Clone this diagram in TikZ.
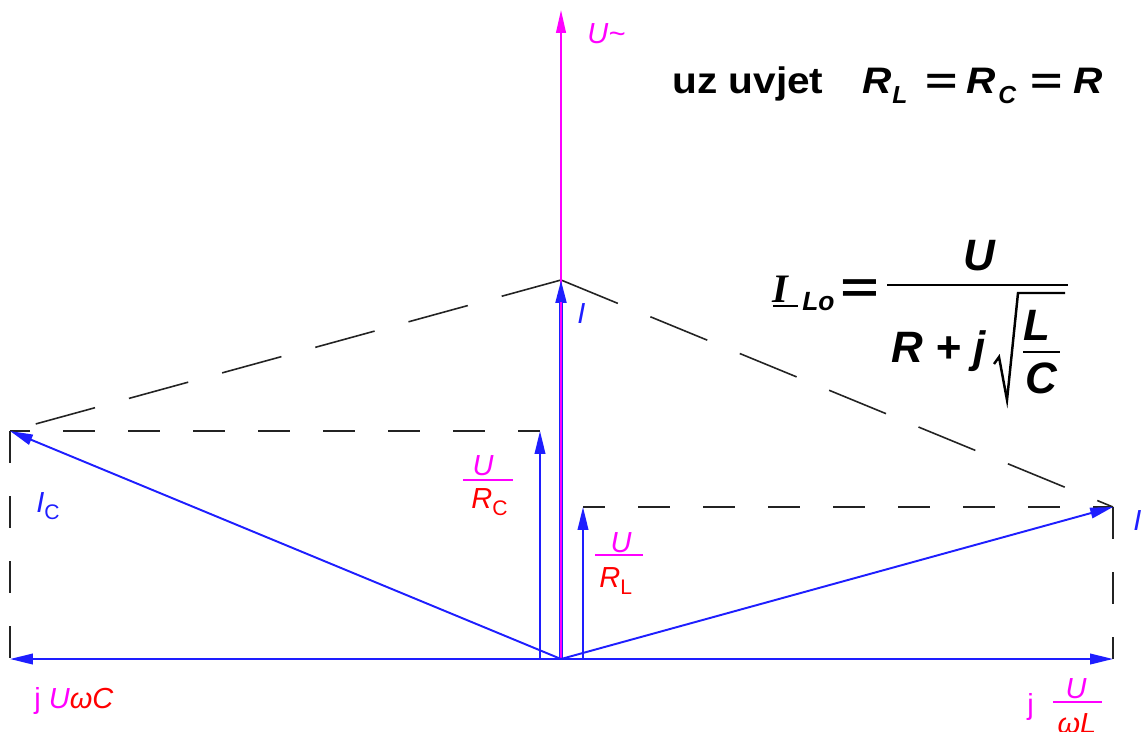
\documentclass[tikz,border=0pt]{standalone}
\usepackage{fontspec}
\setmainfont{Liberation Sans}
\newfontfamily\tnr{Liberation Serif}
\usetikzlibrary{arrows.meta}
\definecolor{vblue}{RGB}{30,30,255}
\definecolor{vmag}{RGB}{255,0,255}
\definecolor{vred}{RGB}{255,0,0}
\definecolor{vgray}{RGB}{35,35,35}
\newcommand\lsub[1]{\raisebox{-4pt}{\fontsize{12}{12}\selectfont #1}}
\newcommand\weq{\scalebox{1.5}[1]{=}}
\begin{document}
\begin{tikzpicture}[x=0.02cm,y=-0.02cm,
  vec/.style={draw=vblue, line width=1.1pt, -{Triangle[length=13pt,width=6pt]}},
  axisline/.style={draw=vmag, line width=1.1pt, -{Triangle[length=13pt,width=5.5pt]}},
  longdash/.style={draw=vgray, line width=0.9pt, dash pattern=on 35pt off 20pt},
  shortdash/.style={draw=vgray, line width=0.9pt, dash pattern=on 18.2pt off 18.8pt},
  lbl/.style={inner sep=0pt, font=\fontsize{16.5}{16.5}\selectfont},
  big/.style={inner sep=0pt, font=\fontsize{21}{21}\selectfont\bfseries},
  fml/.style={inner sep=0pt, font=\fontsize{25}{25}\selectfont\bfseries\itshape},
]
\useasboundingbox (0,0) rectangle (1142,731);
\fill[white] (0,0) rectangle (1142,731);

% points
\coordinate (O) at (561,659);
\coordinate (Utop) at (561,10);
\coordinate (I) at (561,280);
\coordinate (Ibase) at (561,302);
\coordinate (IC) at (10,431);
\coordinate (IL) at (1113,507);
\coordinate (HL) at (10,659);
\coordinate (HR) at (1113,659);
\coordinate (RCtop) at (540,431);
\coordinate (RCbot) at (540,659);
\coordinate (RLtop) at (583,507);
\coordinate (RLbot) at (583,659);

% dashed construction
\draw[longdash] (I) -- (IC);
\draw[longdash] (I) -- (IL);
\draw[shortdash, dash phase=6.8pt] (IC) -- (RCtop);
\draw[shortdash, dash phase=5.7pt] (RLtop) -- (IL);
\draw[shortdash] (IC) -- (HL);
\draw[shortdash] (IL) -- (HR);

% axis and vectors
\draw[axisline] (O) -- (Utop);
\draw[vec, line width=1.8pt] (O) -- (I);
\draw[vmag, line width=0.7pt] (O) -- (Ibase);
\draw[vec] (O) -- (IC);
\draw[vec] (O) -- (IL);
\draw[vec] (O) -- (HL);
\draw[vec] (O) -- (HR);
\draw[vec] (RCbot) -- (RCtop);
\draw[vec] (RLbot) -- (RLtop);

% labels
\node[lbl, text=vmag, anchor=base west] (lu) at (587,43) {\itshape U\textasciitilde};
\node[lbl, text=vblue, anchor=base west] (li) at (577,323) {\itshape I};
\node[lbl, text=vblue, anchor=base west] (lic) at (36,512) {\textit{I}\lsub{C}};
\node[lbl, text=vblue, anchor=base west] (lil) at (1133,530) {\textit{I}\lsub{L}};

\node[lbl, text=vmag, anchor=base] (rcn) at (483,475) {\itshape U};
\coordinate (rcb1) at (463,480); \coordinate (rcb2) at (513,480);
\draw[vmag, line width=1.2pt] (rcb1) -- (rcb2);
\node[lbl, text=vred, anchor=base west] (rcd) at (471,508) {\textit{R}\lsub{C}};

\node[lbl, text=vmag, anchor=base] (rln) at (621,552) {\itshape U};
\coordinate (rlb1) at (595,555); \coordinate (rlb2) at (643,555);
\draw[vmag, line width=1.2pt] (rlb1) -- (rlb2);
\node[lbl, text=vred, anchor=base west] (rld) at (599,587) {\textit{R}\lsub{L}};

\node[lbl, anchor=base west] (ljc) at (34,708) {{\color{vmag}j \itshape U}{\color{vred}\itshape ωC}};

\node[lbl, text=vmag, anchor=base west] (ljl) at (1027,714) {j};
\node[lbl, text=vmag, anchor=base] (ljln) at (1076,698) {\itshape U};
\coordinate (ljb1) at (1053,702); \coordinate (ljb2) at (1102,702);
\draw[vmag, line width=1.2pt] (ljb1) -- (ljb2);
\node[lbl, text=vred, anchor=base] (ljld) at (1077,733) {\itshape ωL};

% condition
\node[big, anchor=base west] (uz) at (672,93) {\scalebox{1.1}[1]{uz uvjet}};
\node[big, anchor=base west] (c1) at (862,93) {\scalebox{1.1}[1]{\itshape R}};
\node[inner sep=0pt, anchor=base west, font=\fontsize{14}{14}\selectfont\bfseries\itshape] (c1s) at (892,103) {L};
\node[big, anchor=base west] (c2) at (925,93) {\weq};
\node[big, anchor=base west] (c3) at (966,93) {\scalebox{1.1}[1]{\itshape R}};
\node[inner sep=0pt, anchor=base west, font=\fontsize{14}{14}\selectfont\bfseries\itshape] (c3s) at (998,103) {C};
\node[big, anchor=base west] (c4) at (1030,93) {\weq};
\node[big, anchor=base west] (c5) at (1073,93) {\scalebox{1.1}[1]{\itshape R}};

% formula
\node[inner sep=0pt, anchor=base west, font=\fontsize{23}{23}\selectfont\tnr\bfseries\itshape] (fi) at (772,302) {I};
\coordinate (fu1) at (773,306); \coordinate (fu2) at (798,306);
\draw[black, line width=1.2pt] (fu1) -- (fu2);
\node[fml, anchor=base west, font=\fontsize{15}{15}\selectfont\bfseries\itshape] (flo) at (802,310) {Lo};
\node[fml, anchor=base west] (feq) at (839,302) {\weq};
\node[fml, anchor=base] (fu) at (979,270) {U};
\coordinate (fb1) at (887,285); \coordinate (fb2) at (1068,285);
\draw[black, line width=1.4pt] (fb1) -- (fb2);
\node[fml, anchor=base west] (fr) at (891,362) {R + j};
\coordinate (s0) at (994,364); \coordinate (s1) at (999,357);
\coordinate (s2) at (1007,400); \coordinate (s3) at (1018,293);
\coordinate (s4) at (1065,293);
\draw[black, line width=1.4pt, line join=miter] (s0) -- (s1) -- (s2) -- (s3) -- (s4);
\node[fml, anchor=base] (fl) at (1037,340) {L};
\coordinate (fs1) at (1023,352); \coordinate (fs2) at (1060,352);
\draw[black, line width=0.7pt] (fs1) -- (fs2);
\node[fml, anchor=base] (fc) at (1041,393) {C};
\end{tikzpicture}
\end{document}
